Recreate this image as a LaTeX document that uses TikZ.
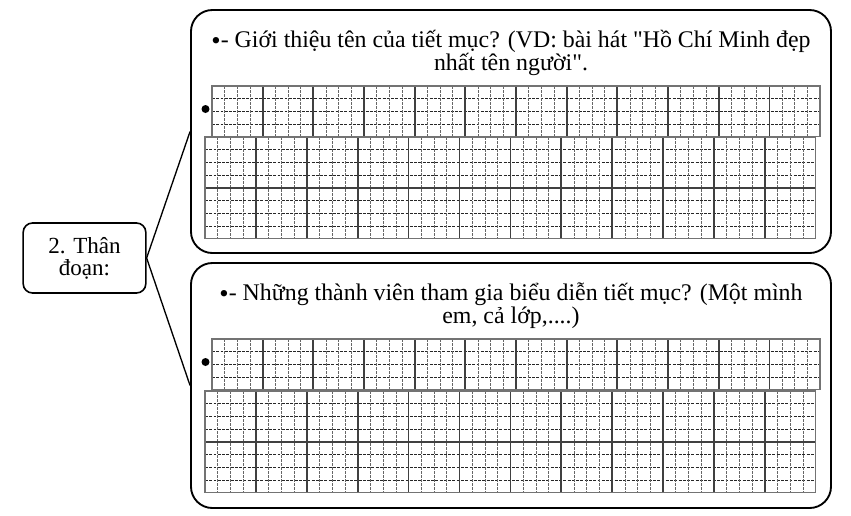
\documentclass[tikz,border=0pt]{standalone}
\usepackage{fontspec}
\setmainfont{Liberation Serif}
\newcommand\bigbul{\raisebox{-1.6pt}{\fontsize{20}{16}\selectfont•}}
\begin{document}
\begin{tikzpicture}[x=0.75pt,y=-0.75pt,
  boxstyle/.style={draw=black,line width=1.4pt,rounded corners=16pt,fill=white,inner sep=0pt},
  leftbox/.style={draw=black,line width=1.2pt,rounded corners=7pt,fill=white,inner sep=0pt,minimum width=92pt,minimum height=52.5pt,align=center,font=\fontsize{17.3}{16.5}\selectfont},
  conn/.style={draw=black,line width=1pt},
  txt/.style={align=center,inner sep=0pt,font=\fontsize{17.9}{17.2}\selectfont},
  finev/.style={draw=black!60,line width=0.5pt,dash pattern=on 2pt off 1pt},
  fineh/.style={draw=black!85,line width=0.55pt,dash pattern=on 2.2pt off 1pt},
  thickl/.style={draw=black!75,line width=1.3pt},
  frame/.style={draw=black!55,line width=0.9pt},
  dotb/.style={fill=black,circle,inner sep=0pt,minimum size=6pt}
]
\useasboundingbox (0,0) rectangle (851,515);
% grid macro: x0, y0, cols, rows, size
\newcommand\oly[5]{%
  \foreach \k in {1,...,\numexpr4*#4-1\relax}{\draw[fineh] (#1,{#2+\k*#5/4}) -- ({#1+#3*#5},{#2+\k*#5/4});}
  \foreach \k in {1,...,\numexpr4*#3-1\relax}{\draw[finev] ({#1+\k*#5/4},#2) -- ({#1+\k*#5/4},{#2+#4*#5});}
  \foreach \j in {1,...,\numexpr#3-1\relax}{\draw[thickl] ({#1+\j*#5},#2) -- ({#1+\j*#5},{#2+#4*#5});}
  \ifnum#4>1 \foreach \j in {1,...,\numexpr#4-1\relax}{\draw[thickl] (#1,{#2+\j*#5}) -- ({#1+#3*#5},{#2+\j*#5});}\fi
  \draw[frame] (#1,#2) rectangle ({#1+#3*#5},{#2+#4*#5});
}
% boxes
\node[boxstyle,minimum width=480pt,minimum height=182.25pt] (box1) at (511,131.5) {};
\node[boxstyle,minimum width=480pt,minimum height=183.75pt] (box2) at (511,385.5) {};
\node[leftbox] (thandoan) at (84.5,258) {2. Thân\\đoạn:};
\draw[conn] (thandoan.east) -- (box1.west);
\draw[conn] (thandoan.east) -- (box2.west);
% texts
\node[txt] (t1) at (511,53) {\bigbul- Giới thiệu tên của tiết mục? (VD: bài hát \textquotedbl Hồ Chí Minh đẹp\\nhất tên người\textquotedbl.};
\node[txt] (t2) at (511,306) {\bigbul- Những thành viên tham gia biểu diễn tiết mục? (Một mình\\em, cả lớp,....)};
% grids top
\oly{212}{86}{12}{1}{50.67}
\oly{205}{137}{12}{2}{50.9}
\node[dotb] (d1) at (205.5,109) {};
% grids bottom
\oly{212}{339}{12}{1}{50.67}
\oly{205}{391}{12}{2}{50.9}
\node[dotb] (d2) at (205.5,362) {};
\end{tikzpicture}
\end{document}
